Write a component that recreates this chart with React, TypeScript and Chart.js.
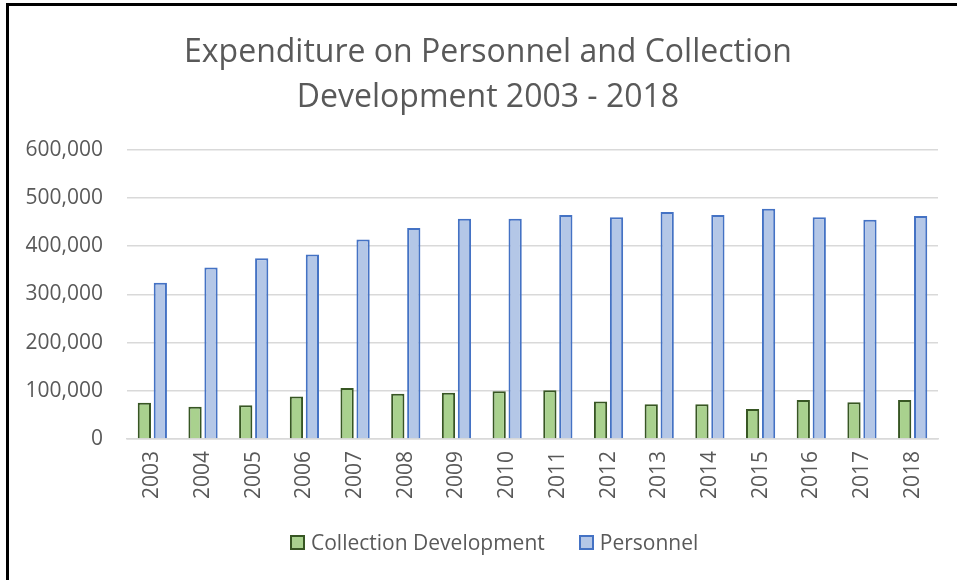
import React, { useEffect, useRef } from "react";
import { Chart, registerables } from "chart.js";

Chart.register(...registerables);

const years = ["2003","2004","2005","2006","2007","2008","2009","2010","2011","2012","2013","2014","2015","2016","2017","2018"];
const collectionDevelopment = [75000, 67000, 70000, 88000, 106000, 94000, 96000, 99000, 101000, 78000, 72000, 72000, 62000, 81000, 76000, 81000];
const personnel = [324000, 356000, 375000, 383000, 414000, 438000, 457000, 457000, 465000, 460000, 471000, 465000, 478000, 460000, 455000, 463000];
const titleLines = ["Expenditure on Personnel and Collection", "Development 2003 - 2018"];
const seriesNames = ["Collection Development", "Personnel"];
const seriesFill = ["#a9d18e", "#b4c7e7"];
const seriesBorder = ["#375623", "#4472c4"];

const FONT = "'Open Sans', 'Noto Sans', sans-serif";
const TEXT = "#595959";

const shiftTitle = {
  id: "shiftTitle",
  afterLayout(chart: any) {
    const t = chart.titleBlock;
    if (t) {
      t.left += 14;
      t.right += 14;
    }
  },
};

export default function App() {
  const ref = useRef<HTMLCanvasElement | null>(null);
  useEffect(() => {
    if (!ref.current) return;
    const chart = new Chart(ref.current, {
      type: "bar",
      data: {
        labels: years,
        datasets: [
          {
            label: seriesNames[0],
            data: collectionDevelopment,
            backgroundColor: seriesFill[0],
            borderColor: seriesBorder[0],
            borderWidth: 2,
            categoryPercentage: 0.63,
            barPercentage: 0.83,
          },
          {
            label: seriesNames[1],
            data: personnel,
            backgroundColor: seriesFill[1],
            borderColor: seriesBorder[1],
            borderWidth: 2,
            categoryPercentage: 0.63,
            barPercentage: 0.83,
          },
        ],
      },
      plugins: [shiftTitle],
      options: {
        animation: false,
        responsive: false,
        maintainAspectRatio: false,
        layout: { padding: { left: 10, right: 19, top: 22, bottom: 69 } },
        plugins: {
          title: {
            display: true,
            text: titleLines,
            color: TEXT,
            font: { family: FONT, size: 32, weight: "normal", lineHeight: 1.42 },
            padding: { top: 8, bottom: 29 },
          },
          legend: { display: false },
          tooltip: { enabled: false },
        },
        scales: {
          x: {
            grid: { display: false, drawTicks: false },
            border: { display: true, color: "#d9d9d9", width: 1.5 },
            ticks: {
              color: TEXT,
              font: { family: FONT, size: 21 },
              minRotation: 90,
              maxRotation: 90,
              padding: 12,
            },
          },
          y: {
            min: 0,
            max: 600000,
            border: { display: false },
            grid: { color: "#d9d9d9", lineWidth: 1.5, drawTicks: false },
            ticks: {
              stepSize: 100000,
              color: TEXT,
              font: { family: FONT, size: 21 },
              padding: 24,
              callback: (v: any) => Number(v).toLocaleString("en-US"),
            },
            afterFit: (scale: any) => {
              scale.width = 117;
            },
          },
        },
      },
    });
    return () => chart.destroy();
  }, []);
  return (
    <div style={{ position: "fixed", left: 0, top: 0, width: 957, height: 580, background: "#fff" }}>
      <canvas ref={ref} width={957} height={580} style={{ position: "absolute", left: 0, top: 0 }} />
      <div
        style={{
          position: "absolute",
          left: 290,
          top: 528,
          height: 28,
          display: "flex",
          alignItems: "center",
          fontFamily: FONT,
          fontSize: 21,
          color: TEXT,
          whiteSpace: "nowrap",
        }}
      >
        {seriesNames.map((name, i) => (
          <div key={name} style={{ display: "flex", alignItems: "center", marginRight: i === 0 ? 34 : 0 }}>
            <span
              style={{
                display: "inline-block",
                width: 15,
                height: 15,
                boxSizing: "border-box",
                background: seriesFill[i],
                border: `2px solid ${seriesBorder[i]}`,
                marginRight: 6,
              }}
            />
            <span>{name}</span>
          </div>
        ))}
      </div>
      <div
        style={{
          position: "absolute",
          left: 6,
          top: 3,
          width: 951,
          height: 577,
          borderTop: "3px solid #000",
          borderLeft: "3px solid #000",
          boxSizing: "border-box",
          pointerEvents: "none",
        }}
      />
    </div>
  );
}
